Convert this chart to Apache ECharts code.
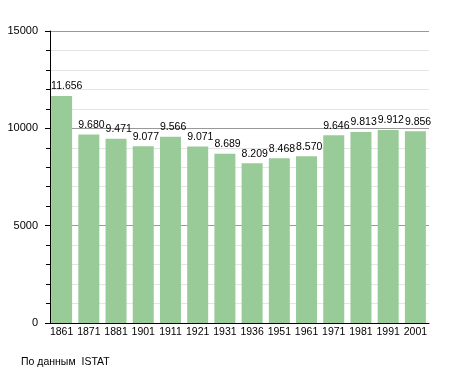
<!DOCTYPE html>
<html><head><meta charset="utf-8">
<script src="https://cdn.jsdelivr.net/npm/echarts@6/dist/echarts.min.js"></script>
<style>html,body{margin:0;padding:0;background:#fff}#c{width:455px;height:373px}</style>
</head><body><div id="c"></div>
<script>
const categories = ['1861','1871','1881','1901','1911','1921','1931','1936','1951','1961','1971','1981','1991','2001'];
const population = [11656, 9680, 9471, 9077, 9566, 9071, 8689, 8209, 8468, 8570, 9646, 9813, 9912, 9856];
const yTicks = [0, 5000, 10000, 15000];
const sourceText = 'По данным  ISTAT';

const fmt = v => String(v).replace(/\B(?=(\d{3})+(?!\d))/g, '.');
const chart = echarts.init(document.getElementById('c'));
chart.setOption({
  animation: false,
  textStyle: { fontFamily: 'Liberation Sans, Arial, sans-serif' },
  grid: { left: 48, right: 26, top: 31, bottom: 50 },
  graphic: [{ type: 'text', left: 21, top: 357, style: { text: sourceText, font: '10.5px Liberation Sans, Arial, sans-serif', fill: '#000' } }],
  xAxis: {
    type: 'category', data: categories,
    axisLine: { lineStyle: { color: '#000', width: 1 } },
    axisTick: { show: false },
    axisLabel: { color: '#000', fontSize: 10.5, margin: 4, interval: 0 }
  },
  yAxis: {
    type: 'value', min: yTicks[0], max: yTicks[yTicks.length - 1], interval: 5000,
    offset: -2,
    axisLine: { show: true, lineStyle: { color: '#000', width: 1 } },
    axisTick: { show: true, length: 5, lineStyle: { color: '#000' } },
    minorTick: { show: true, splitNumber: 5, length: 4, lineStyle: { color: '#000' } },
    axisLabel: { color: '#000', fontSize: 11, margin: 12, formatter: v => String(v) },
    splitLine: { show: true, lineStyle: { color: '#999', width: 1 } },
    minorSplitLine: { show: true, lineStyle: { color: '#e4e4e4', width: 1 } }
  },
  series: [{
    type: 'bar', data: population, barWidth: 21,
    itemStyle: { color: '#99cb99' },
    label: { show: true, position: 'top', align: 'left', offset: [-10.5, 0], color: '#000', fontSize: 10.5, distance: 4, formatter: p => fmt(p.value) }
  }]
});
</script></body></html>
